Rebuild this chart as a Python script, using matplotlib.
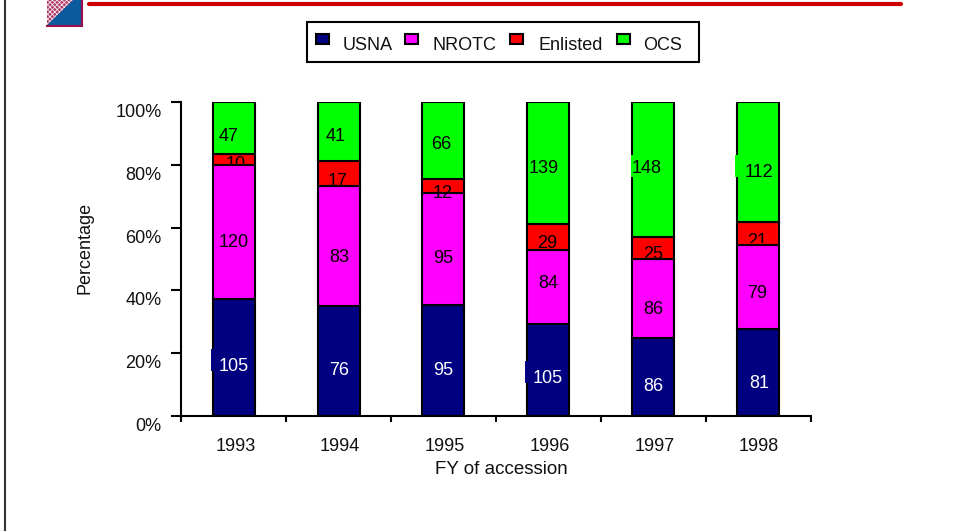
import numpy as np
import matplotlib
matplotlib.use("Agg")
import matplotlib.pyplot as plt
from matplotlib.patches import Rectangle, Polygon

plt.rcParams["font.family"] = ["Liberation Sans", "DejaVu Sans"]
plt.rcParams["hatch.linewidth"] = 0.6

# ── DATA ─────────────────────────────────────────────────────
years   = ["1993", "1994", "1995", "1996", "1997", "1998"]
usna    = [105, 76, 95, 105, 86, 81]
nrotc   = [120, 83, 95, 84, 86, 79]
enlisted = [10, 17, 12, 29, 25, 21]
ocs     = [47, 41, 66, 139, 148, 112]
pct_labels = ["0%", "20%", "40%", "60%", "80%", "100%"]

names  = ["USNA", "NROTC", "Enlisted", "OCS"]
series = [usna, nrotc, enlisted, ocs]
colors = ["#000080", "#FF00FF", "#FF0000", "#00FF00"]
label_colors = ["white", "black", "black", "black"]

# where the value labels sit, in image pixels (x, y), one row per series
label_px = [
    [(234, 365), (339, 369), (443, 369), (548, 377), (653, 385), (759, 382)],
    [(234, 241), (339, 256), (443, 257), (548, 282), (653, 308), (757, 292)],
    [(235.5, 163), (337.5, 180), (443, 192), (547, 242), (653, 253), (757, 240)],
    [(229, 135), (336, 135), (441, 143), (544, 167), (646.5, 167), (758.5, 171)],
]
# labels that the next segment cuts off: (series, year index) -> lowest visible pixel
clip_bottom = {(2, 0): 165, (2, 5): 243}
FS = 13
W, H = 958, 531
LIFT = 1.5  # va="center" sits a bit high for digits

# ── FIGURE ───────────────────────────────────────────────────
fig = plt.figure(figsize=(W / 100, H / 100), dpi=100)
bg = fig.add_axes([0, 0, 1, 1])
bg.set_xlim(0, W); bg.set_ylim(H, 0); bg.axis("off")

# slide furniture
bg.plot([5.5, 5.5], [0, H], color="#333333", lw=1.5)
bg.plot([89, 901], [4, 4], color="#CC0000", lw=3, solid_capstyle="round")
bg.add_patch(Rectangle((47, 0), 36, 27, fc="#0B5A9E", ec="none"))
bg.add_patch(Polygon([(47, 0), (73, 0), (47, 25)], fc="#B03A68", ec="#F4E4EA",
                     hatch="xxxxxxx", lw=0))
bg.plot([47, 82.5, 82.5], [26, 26, 0], color="#99114A", lw=1.5)

ax = fig.add_axes([181 / W, 1 - 416 / H, 630 / W, 314 / H])
ax.patch.set_alpha(0)

# ── BARS ─────────────────────────────────────────────────────
vals = np.array(series, dtype=float)
pct = vals / vals.sum(axis=0)
x = np.arange(len(years))
bottom = np.zeros(len(years))
for i, name in enumerate(names):
    ax.bar(x, pct[i], 0.4, bottom=bottom, color=colors[i], edgecolor="black",
           linewidth=1.5, label=name, zorder=2)
    bottom += pct[i]

ax.set_xlim(-0.5, 5.5)
ax.set_ylim(0, 1)
ax.set_yticks(np.arange(0, 1.01, 0.2))
ax.set_yticklabels([])
ax.set_xticks(np.arange(-0.5, 5.6))
ax.set_xticklabels([])
ax.tick_params(axis="x", direction="out", length=4, width=1.5)
ax.tick_params(axis="y", direction="out", length=7, width=1.5)
for s in ["top", "right"]:
    ax.spines[s].set_visible(False)
for s in ["left", "bottom"]:
    ax.spines[s].set_linewidth(1.5)

# overlay for every text, above the bars
top = fig.add_axes([0, 0, 1, 1], zorder=5)
top.set_xlim(0, W); top.set_ylim(H, 0); top.axis("off")

# tick labels sit a little below their ticks in the reference
for lab, v in zip(pct_labels, np.arange(0, 1.01, 0.2)):
    py = 416 - 314 * v + 10.5
    top.text(161.5, py, lab, ha="right", va="center", fontsize=FS, color="#111111")
for i, year in enumerate(years):
    top.text(235.5 + 104.7 * i, 445 + LIFT, year, ha="center", va="center",
             fontsize=FS, color="#111111")

top.text(501.5, 470, "FY of accession", ha="center", va="center", fontsize=13.5, color="#111111")
top.text(85, 248, "Percentage", ha="center", va="center", rotation=90, fontsize=FS, color="#111111")

# little scraps of label background that poke past the bar edge
for (px, py, c) in [(211, 349, colors[0]), (525, 361, colors[0]),
                    (631, 155, colors[3]), (735, 155, colors[3])]:
    top.add_patch(Rectangle((px, py), 3, 22, fc=c, ec="none"))

# value labels
for i, row in enumerate(label_px):
    for j, (px, py) in enumerate(row):
        t = top.text(px, py + LIFT, str(series[i][j]), ha="center", va="center",
                     fontsize=FS, color=label_colors[i])
        if (i, j) in clip_bottom:
            clip = Rectangle((px - 30, py - 30), 60, clip_bottom[(i, j)] - py + 30,
                             transform=top.transData)
            t.set_clip_path(clip)
            t.set_clip_on(True)

# ── LEGEND ───────────────────────────────────────────────────
top.add_patch(Rectangle((307, 22), 392, 40, fc="white", ec="black", lw=1.5))
swatch_x = [316, 405, 510, 617]
text_x   = [343, 433, 539, 643]
for name, c, sx, tx in zip(names, colors, swatch_x, text_x):
    top.add_patch(Rectangle((sx, 34), 13, 10, fc=c, ec="black", lw=1.5))
    top.text(tx, 45, name, ha="left", va="center", fontsize=FS, color="#111111")

fig.savefig("out.png", dpi=100)
